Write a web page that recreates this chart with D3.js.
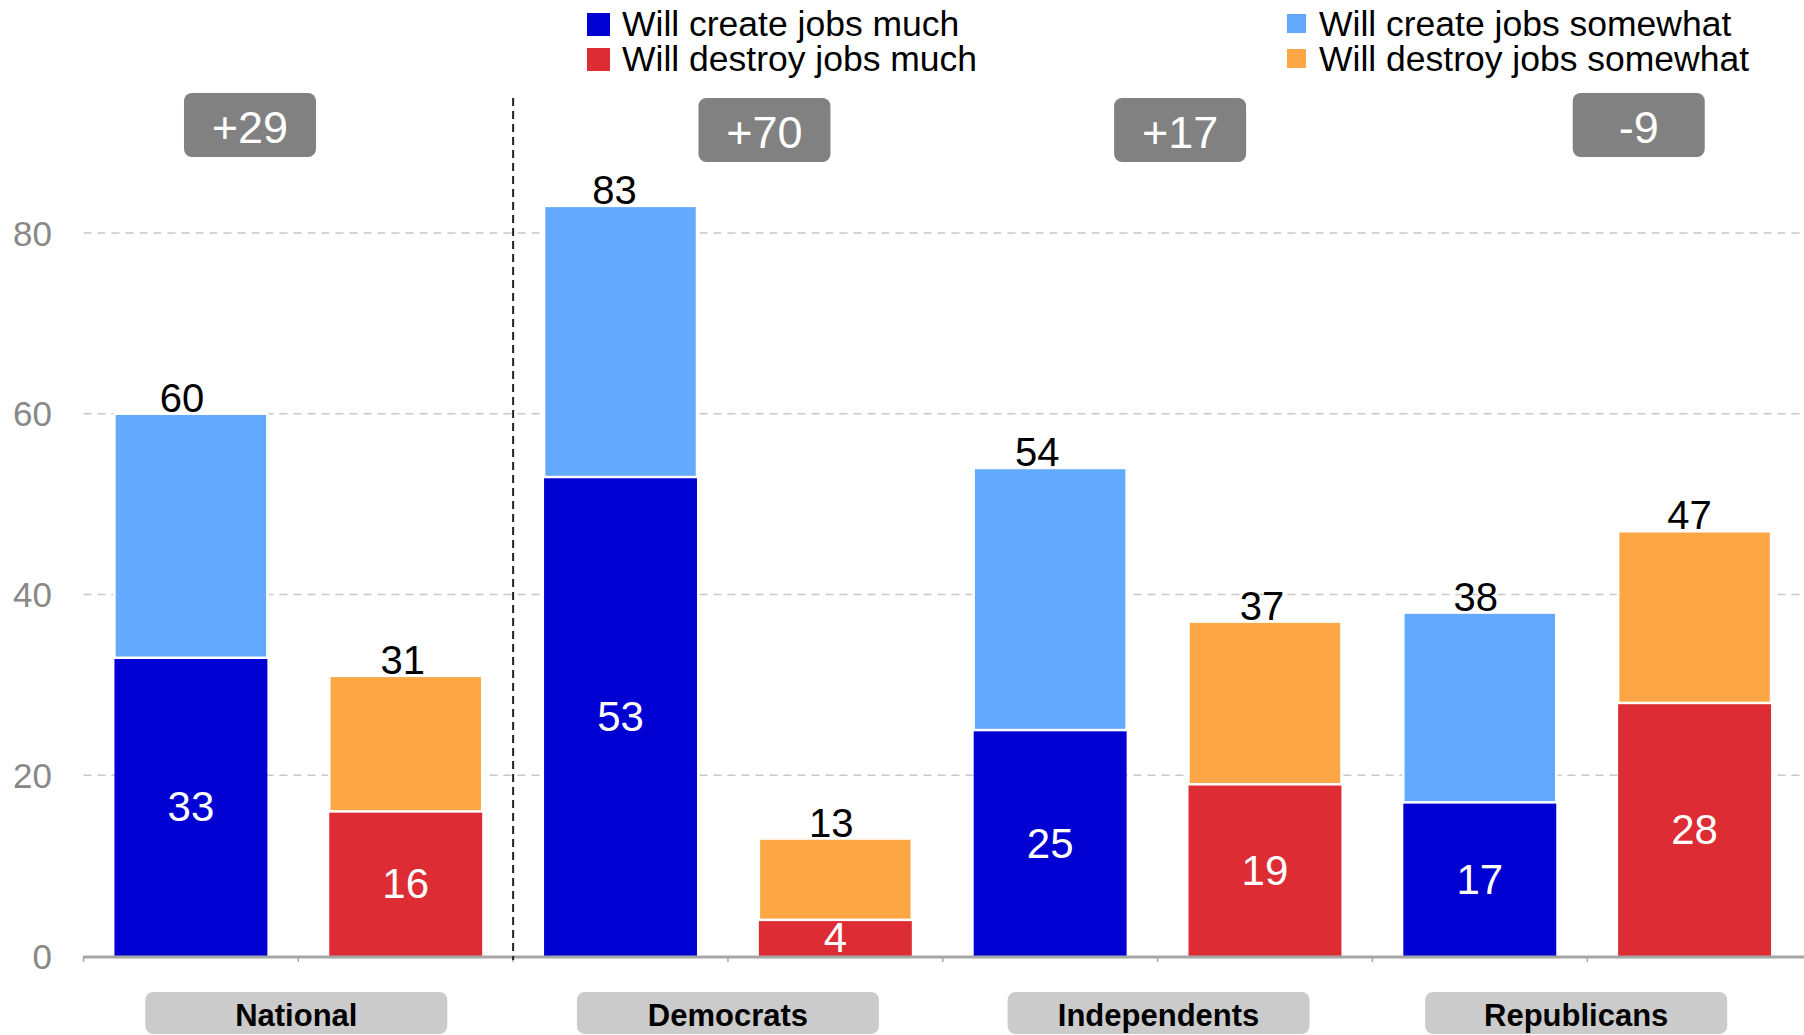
<!DOCTYPE html>
<html>
<head>
<meta charset="utf-8">
<script src="https://cdn.jsdelivr.net/npm/d3@7"></script>
<style>
  html, body { margin: 0; padding: 0; background: #fff; }
  svg { display: block; font-family: "Liberation Sans", Arial, Helvetica, sans-serif; }
</style>
</head>
<body>
<svg id="chart" width="1804" height="1035"></svg>
<script>
// ---- data ----
const categories = ["National", "Democrats", "Independents", "Republicans"];
const createMuch = [33, 53, 25, 17];
const createSomewhat = [27, 30, 29, 21];
const destroyMuch = [16, 4, 19, 28];
const destroySomewhat = [15, 9, 18, 19];
const netLabels = ["+29", "+70", "+17", "-9"];
const yTicks = [0, 20, 40, 60, 80];
const seriesNames = ["Will create jobs much", "Will destroy jobs much",
                     "Will create jobs somewhat", "Will destroy jobs somewhat"];

// ---- layout / style (not data) ----
const W = 1804, H = 1035;
const colors = {
  createMuch: "#0000d3",
  createSomewhat: "#63a9fd",
  destroyMuch: "#dd2c33",
  destroySomewhat: "#fda646"
};
const netOffsetSteps = [-0.225, 0.17, 0.105, 0.24];   // horizontal shift of net boxes, in band steps
const netBoxTop = [93, 98, 98, 93];
const totalLabelDx = { create: [-9, -6, -13, -4], destroy: [-3, -4, -3, -5] };
const groupBoxDx = [-2, 0, 1, -11];

const svg = d3.select("#chart");

const keys = categories.flatMap(c => [c + "|create", c + "|destroy"]);
const x = d3.scaleBand().domain(keys).range([83.5, 1802]).paddingInner(0.288).paddingOuter(0.144);
const y = d3.scaleLinear().domain([0, 80]).range([956, 233]);

// gridlines
svg.append("g").selectAll("line").data(yTicks.filter(t => t > 0)).join("line")
  .attr("x1", 83.5).attr("x2", W)
  .attr("y1", d => y(d)).attr("y2", d => y(d))
  .attr("stroke", "#c8c8c8").attr("stroke-width", 1.5).attr("stroke-dasharray", "8,6");

// y tick labels
svg.append("g").selectAll("text").data(yTicks).join("text")
  .attr("x", 52).attr("y", d => y(d))
  .attr("text-anchor", "end").attr("dominant-baseline", "central")
  .attr("fill", "#888").attr("font-size", 35)
  .text(d => d);

// bars
const rows = categories.map((c, i) => ({
  c, i,
  create: [createMuch[i], createSomewhat[i]],
  destroy: [destroyMuch[i], destroySomewhat[i]]
}));

const barG = svg.append("g");
rows.forEach(r => {
  const defs = [
    { kind: "create", key: r.c + "|create", vals: r.create, cols: [colors.createMuch, colors.createSomewhat] },
    { kind: "destroy", key: r.c + "|destroy", vals: r.destroy, cols: [colors.destroyMuch, colors.destroySomewhat] }
  ];
  defs.forEach(d => {
    const x0 = x(d.key), bw = x.bandwidth();
    const lower = d.vals[0], total = d.vals[0] + d.vals[1];
    barG.append("rect")
      .attr("x", x0).attr("width", bw)
      .attr("y", y(lower)).attr("height", y(0) - y(lower))
      .attr("fill", d.cols[0]);
    barG.append("rect")
      .attr("x", x0).attr("width", bw)
      .attr("y", y(total)).attr("height", y(lower) - y(total))
      .attr("fill", d.cols[1]).attr("stroke", "#fff").attr("stroke-width", 2.5);
    // inner label
    barG.append("text")
      .attr("x", x0 + bw / 2).attr("y", (y(0) + y(lower)) / 2)
      .attr("text-anchor", "middle").attr("dominant-baseline", "central")
      .attr("fill", "#fff").attr("font-size", 42)
      .text(lower);
    // total label
    barG.append("text")
      .attr("x", x0 + bw / 2 + totalLabelDx[d.kind][r.i]).attr("y", y(total) - 2)
      .attr("text-anchor", "middle")
      .attr("fill", "#000").attr("font-size", 40)
      .text(total);
  });
});

// x axis
const axisG = svg.append("g");
axisG.append("line").attr("x1", 83.5).attr("x2", W).attr("y1", y(0) + 1).attr("y2", y(0) + 1)
  .attr("stroke", "#a6a6a6").attr("stroke-width", 3);
const bounds = d3.range(0, keys.length + 1).map(k => x.range()[0] + k * x.step());
axisG.selectAll("line.tick").data(bounds.slice(0, keys.length)).join("line").attr("class", "tick")
  .attr("x1", d => d).attr("x2", d => d).attr("y1", y(0)).attr("y2", y(0) + 6)
  .attr("stroke", "#a6a6a6").attr("stroke-width", 1.5);

// vertical dashed separator between National and the parties
const sepX = x.range()[0] + 2 * x.step();
svg.append("line").attr("x1", sepX).attr("x2", sepX).attr("y1", 98).attr("y2", y(0) + 4)
  .attr("stroke", "#222").attr("stroke-width", 2).attr("stroke-dasharray", "8,5");

// net boxes
const netG = svg.append("g");
rows.forEach(r => {
  const cx = x(r.c + "|create") + x.bandwidth() / 2 + x.step() / 2 + netOffsetSteps[r.i] * x.step();
  const top = netBoxTop[r.i];
  netG.append("rect").attr("x", cx - 66).attr("y", top).attr("width", 132).attr("height", 64)
    .attr("rx", 8).attr("fill", "#818181");
  netG.append("text").attr("x", cx).attr("y", top + 50)
    .attr("text-anchor", "middle").attr("fill", "#fff").attr("font-size", 45)
    .text(netLabels[r.i]);
});

// group labels
const grpG = svg.append("g");
rows.forEach(r => {
  const cx = x(r.c + "|create") + x.bandwidth() / 2 + x.step() / 2 + groupBoxDx[r.i];
  const bw = 302;
  grpG.append("rect").attr("x", cx - bw / 2).attr("y", 992).attr("width", bw).attr("height", 42)
    .attr("rx", 8).attr("fill", "#cbcbcb");
  grpG.append("text").attr("x", cx).attr("y", 1026)
    .attr("text-anchor", "middle").attr("font-weight", "bold").attr("font-size", 31)
    .attr("fill", "#000").text(r.c);
});

// legend
const legendItems = [
  { name: seriesNames[0], color: colors.createMuch, sx: 587, sy: 13, s: 23, tx: 622, ty: 36 },
  { name: seriesNames[1], color: colors.destroyMuch, sx: 587, sy: 48, s: 23, tx: 622, ty: 71 },
  { name: seriesNames[2], color: colors.createSomewhat, sx: 1287, sy: 14, s: 19, tx: 1319, ty: 36 },
  { name: seriesNames[3], color: colors.destroySomewhat, sx: 1287, sy: 49, s: 19, tx: 1319, ty: 71 }
];
const legG = svg.append("g");
legendItems.forEach(l => {
  legG.append("rect").attr("x", l.sx).attr("y", l.sy).attr("width", l.s).attr("height", l.s).attr("fill", l.color);
  legG.append("text").attr("x", l.tx).attr("y", l.ty).attr("font-size", 35.5).attr("fill", "#000").text(l.name);
});
</script>
</body>
</html>
